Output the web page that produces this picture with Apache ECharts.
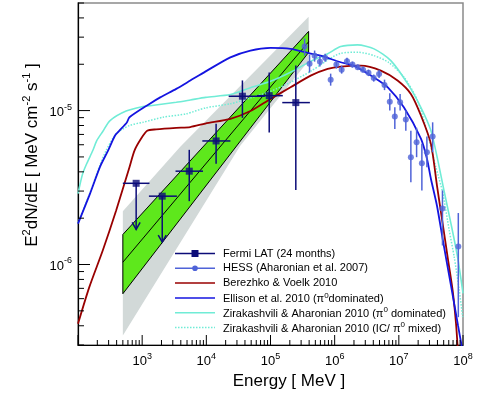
<!DOCTYPE html>
<html><head><meta charset="utf-8">
<script src="https://cdn.jsdelivr.net/npm/echarts@6/dist/echarts.min.js"></script>
<style>html,body{margin:0;padding:0;background:#fff;}#chart{width:498px;height:399px;}</style>
</head><body><div id="chart"></div>
<script>
// ---------------- data ----------------
const xLabelValues = [1e3, 1e4, 1e5, 1e6, 1e7, 1e8];
const yLabelValues = [1e-6, 1e-5];

const fermiE   = [806, 2054, 5420, 14200, 36500, 95500, 248000];
const fermiElo = [500, 1274, 3312, 8660, 22300, 61100, 152500];
const fermiEhi = [1300, 3480, 8870, 23700, 81300, 155500, 411000];
const fermiY   = [3.37e-6, 2.78e-6, 4.04e-6, 6.35e-6, 1.24e-5, 1.25e-5, 1.127e-5];
const fermiYlo = [1.69e-6, 1.40e-6, 2.58e-6, 4.51e-6, 8.97e-6, 7.2e-6, 3.05e-6];
const fermiYhi = [3.37e-6, 2.78e-6, 5.56e-6, 8.2e-6, 1.57e-5, 1.77e-5, 1.96e-5];
const fermiUL  = [1, 1, 0, 0, 0, 0, 0];

const hessE  = [3.40e5, 4.06e5, 4.87e5, 5.89e5, 7.11e5, 8.66e5, 1.064e6, 1.285e6, 1.556e6, 1.892e6, 2.286e6, 2.767e6, 3.365e6, 4.064e6, 4.920e6, 5.984e6, 7.228e6, 8.66e6, 1.047e7, 1.285e7, 1.540e7, 1.892e7, 2.286e7, 2.738e7, 3.365e7, 4.786e7, 8.45e7];
const hessY  = [2.606e-5, 2.018e-5, 2.275e-5, 2.080e-5, 2.208e-5, 1.589e-5, 1.991e-5, 1.845e-5, 2.094e-5, 1.991e-5, 1.914e-5, 1.845e-5, 1.758e-5, 1.629e-5, 1.730e-5, 1.469e-5, 1.143e-5, 9.14e-6, 1.132e-5, 8.75e-6, 4.98e-6, 6.22e-6, 4.55e-6, 5.36e-6, 6.78e-6, 2.31e-6, 1.31e-6];
const hessLo = [2.275e-5, 1.766e-5, 2.080e-5, 1.932e-5, 2.080e-5, 1.452e-5, 1.875e-5, 1.738e-5, 1.991e-5, 1.901e-5, 1.845e-5, 1.766e-5, 1.675e-5, 1.542e-5, 1.626e-5, 1.358e-5, 1.0e-5, 7.60e-6, 1.0e-5, 7.41e-6, 3.42e-6, 4.98e-6, 3.03e-6, 4.29e-6, 5.36e-6, 1.33e-6, 4.55e-7];
const hessHi = [2.938e-5, 2.312e-5, 2.455e-5, 2.275e-5, 2.344e-5, 1.738e-5, 2.113e-5, 1.959e-5, 2.208e-5, 2.080e-5, 1.991e-5, 1.932e-5, 1.845e-5, 1.714e-5, 1.845e-5, 1.589e-5, 1.294e-5, 1.050e-5, 1.282e-5, 1.0e-5, 7.41e-6, 7.73e-6, 6.08e-6, 6.78e-6, 8.39e-6, 3.03e-6, 2.16e-6];

const berezhkoE = [100, 150, 243, 393, 634, 759, 964, 1197, 1656, 3396, 5623, 9638, 23700, 48700, 1e5, 2.05e5, 4.22e5, 7.78e5, 1.24e6, 2.55e6, 5.24e6, 9.55e6, 1.54e7, 2.21e7, 3.16e7, 3.93e7, 4.82e7, 5.77e7, 6.90e7, 7.78e7, 8.26e7];
const berezhkoY = [4.12e-7, 7.13e-7, 1.233e-6, 2.244e-6, 4.29e-6, 5.50e-6, 6.58e-6, 7.4e-6, 7.55e-6, 7.73e-6, 7.82e-6, 8.24e-6, 8.83e-6, 9.93e-6, 1.191e-5, 1.416e-5, 1.687e-5, 1.866e-5, 1.932e-5, 1.959e-5, 1.820e-5, 1.567e-5, 1.282e-5, 9.29e-6, 6.08e-6, 3.26e-6, 1.845e-6, 1.114e-6, 6.78e-7, 4.14e-7, 2.90e-7];

const ellisonE = [100, 154, 221, 294, 378, 442, 577, 634, 1300, 1910, 3396, 5623, 9638, 23700, 48700, 1e5, 2.05e5, 4.22e5, 6.04e5, 1.24e6, 1.98e6, 4.06e6, 6.73e6, 1.197e7, 2.21e7, 2.74e7, 3.16e7, 3.93e7, 4.87e7, 6.49e7, 8.36e7, 9.64e7];
const ellisonY = [1.845e-6, 2.89e-6, 4.33e-6, 5.50e-6, 6.89e-6, 7.41e-6, 8.36e-6, 9.05e-6, 1.105e-5, 1.219e-5, 1.384e-5, 1.567e-5, 1.791e-5, 2.218e-5, 2.455e-5, 2.553e-5, 2.518e-5, 2.344e-5, 2.275e-5, 2.061e-5, 1.959e-5, 1.644e-5, 1.416e-5, 1.050e-5, 6.58e-6, 4.88e-6, 3.61e-6, 2.41e-6, 1.43e-6, 7.31e-7, 4.02e-7, 2.89e-7];

const ziraPiE = [100, 118, 137, 170, 196, 243, 316, 562, 1026, 1334, 3396, 5623, 9750, 23700, 48700, 1e5, 2.05e5, 4.22e5, 7.69e5, 1.24e6, 2.27e6, 4.11e6, 7.5e6, 1.37e7, 2.21e7, 3.16e7, 4.06e7, 5.05e7, 6.49e7, 8.26e7, 1e8];
const ziraPiY = [2.89e-6, 3.88e-6, 4.53e-6, 5.50e-6, 6.38e-6, 7.31e-6, 8.61e-6, 9.93e-6, 1.062e-5, 1.076e-5, 1.132e-5, 1.172e-5, 1.219e-5, 1.271e-5, 1.409e-5, 1.549e-5, 1.774e-5, 2.089e-5, 2.333e-5, 2.606e-5, 2.673e-5, 2.518e-5, 2.113e-5, 1.496e-5, 1.045e-5, 7.41e-6, 4.73e-6, 3.03e-6, 1.845e-6, 1.109e-6, 6.5e-7];

const ziraMixE = [100, 154, 221, 274, 393, 634, 1026, 2104, 4870, 9750, 23700, 48700, 1e5, 2.05e5, 4.22e5, 1.24e6, 2.37e6, 4.11e6, 6.98e6, 1.21e7, 1.96e7, 2.81e7, 3.78e7, 4.82e7, 6.11e7, 7.31e7, 8.75e7, 9.89e7];
const ziraMixY = [1.87e-6, 2.93e-6, 4.45e-6, 5.50e-6, 7.06e-6, 8.0e-6, 8.39e-6, 9.05e-6, 9.53e-6, 1.042e-5, 1.107e-5, 1.208e-5, 1.334e-5, 1.528e-5, 1.799e-5, 2.355e-5, 2.393e-5, 2.275e-5, 2.051e-5, 1.644e-5, 1.161e-5, 7.06e-6, 4.29e-6, 2.94e-6, 1.663e-6, 1.114e-6, 6.78e-7, 4.55e-7];

// Fermi statistical butterfly (green) and systematic band (grey)
const statE  = [500, 393000];
const statHi = [1.567e-6, 3.27e-5];
const statMid= [1.035e-6, 2.80e-5];
const statLo = [6.46e-7, 2.39e-5];
const sysUpE = [500, 3925, 393000];
const sysUp  = [2.22e-6, 5.83e-6, 4.07e-5];
const sysLoE = [500, 33960, 393000];
const sysLo  = [3.46e-7, 5.93e-6, 2.11e-5];

// ---------------- chart ----------------
const FONT = 'Liberation Sans, Arial, Helvetica, sans-serif';
const C_FERMI = '#0c0c78', C_HESS = '#4f63d8', C_BV = '#990000', C_ELL = '#1414e0', C_ZA = '#70ecd6';
const zip = (a, b) => a.map((v, i) => [v, b[i]]);
const X_MIN = 100, X_MAX = 1e8, Y_MIN = 3e-7, Y_MAX = 5e-5;

function isLabel(v, list) { return list.some(t => Math.abs(Math.log10(v) - Math.log10(t)) < 1e-6); }
const labelRich = {
  b: {fontSize: 13, fontFamily: FONT, color: '#000', verticalAlign: 'bottom'},
  s: {fontSize: 9, fontFamily: FONT, color: '#000', verticalAlign: 'bottom', padding: [0, 0, 7, 0]}
};

const xMajor = [1e2, 1e3, 1e4, 1e5, 1e6, 1e7, 1e8];
const yMajor = [1e-6, 1e-5];
function minorTicks(lo, hi) {
  const out = [];
  for (let d = Math.floor(Math.log10(lo)); d <= Math.ceil(Math.log10(hi)); d++) {
    for (let k = 2; k <= 9; k++) { const v = k * Math.pow(10, d); if (v >= lo * 0.999 && v <= hi * 1.001) out.push(v); }
  }
  return out;
}
const xMinor = minorTicks(X_MIN, X_MAX), yMinor = minorTicks(Y_MIN, Y_MAX);

function ticksItem(params, api) {
  const ch = [];
  const ln = (a, b) => ch.push({type: 'line', shape: {x1: a[0], y1: a[1], x2: b[0], y2: b[1]}, style: {stroke: '#000', lineWidth: 1}});
  xMajor.forEach(v => { const p = api.coord([v, Y_MIN]); ln(p, [p[0], p[1] - 10]); });
  xMinor.forEach(v => { const p = api.coord([v, Y_MIN]); ln(p, [p[0], p[1] - 5]); });
  yMajor.forEach(v => { const p = api.coord([X_MIN, v]); ln(p, [p[0] + 12, p[1]]); });
  yMinor.forEach(v => { const p = api.coord([X_MIN, v]); ln(p, [p[0] + 6, p[1]]); });
  return {type: 'group', children: ch};
}

function sysBandItem(params, api) {
  const up = sysUpE.map((e, i) => api.coord([e, sysUp[i]]));
  const lo = sysLoE.map((e, i) => api.coord([e, sysLo[i]])).reverse();
  return {type: 'polygon', shape: {points: up.concat(lo)}, style: {fill: '#d2d9d8', stroke: null}};
}
function statBandItem(params, api) {
  const up = statE.map((e, i) => api.coord([e, statHi[i]]));
  const lo = statE.map((e, i) => api.coord([e, statLo[i]])).reverse();
  const mid = statE.map((e, i) => api.coord([e, statMid[i]]));
  return {type: 'group', children: [
    {type: 'polygon', shape: {points: up.concat(lo)}, style: {fill: '#5ee81c', stroke: '#000', lineWidth: 1}},
    {type: 'polyline', shape: {points: mid}, style: {stroke: '#000', lineWidth: 1, fill: null}}
  ]};
}
function fermiErrItem(params, api) {
  const e = api.value(0), y = api.value(1), elo = api.value(2), ehi = api.value(3), ylo = api.value(4), yhi = api.value(5), ul = api.value(6);
  const pl = api.coord([elo, y]), ph = api.coord([ehi, y]);
  const pb = api.coord([e, ylo]), pt = api.coord([e, yhi]);
  const st = {stroke: C_FERMI, lineWidth: 1.5, fill: null};
  const ch = [
    {type: 'line', shape: {x1: pl[0], y1: pl[1], x2: ph[0], y2: ph[1]}, style: st},
    {type: 'line', shape: {x1: pt[0], y1: pt[1], x2: pb[0], y2: pb[1]}, style: st}
  ];
  if (ul) ch.push({type: 'polyline', shape: {points: [[pb[0] - 4, pb[1] - 7], [pb[0], pb[1]], [pb[0] + 4, pb[1] - 7]]}, style: st});
  return {type: 'group', children: ch};
}
function hessErrItem(params, api) {
  const e = api.value(0), lo = api.value(2), hi = api.value(3);
  const a = api.coord([e, lo]), b = api.coord([e, hi]);
  return {type: 'line', shape: {x1: a[0], y1: a[1], x2: b[0], y2: b[1]}, style: {stroke: C_HESS, lineWidth: 1.5}};
}

function curve(name, E, Y, color, width, type, z) {
  return {name, type: 'line', data: zip(E, Y), symbol: 'none', smooth: 0.25, z: z || 4,
    lineStyle: {color, width, type: type || 'solid'}, silent: true};
}

const legendRows = [
  {t: 'Fermi LAT (24 months)', c: C_FERMI, m: 'rect', w: 1.5},
  {t: 'HESS (Aharonian et al. 2007)', c: C_HESS, m: 'circle', w: 1.5},
  {t: 'Berezhko & Voelk 2010', c: C_BV, w: 1.5},
  {t: 'Ellison et al. 2010 (π^0dominated)', c: C_ELL, w: 1.5},
  {t: 'Zirakashvili & Aharonian 2010 (π^0 dominated)', c: C_ZA, w: 1.5},
  {t: 'Zirakashvili & Aharonian 2010 (IC/ π^0 mixed)', c: C_ZA, w: 1.5, dash: [1.5, 1.5]}
];
function richName(t) {
  const parts = t.split('^0');
  return parts.map(p => '{n|' + p + '}').join('{s|0}');
}
const legendGraphic = [];
legendRows.forEach((r, i) => {
  const y = 253.5 + i * 14.8;
  legendGraphic.push({type: 'line', shape: {x1: 175, y1: y, x2: 215, y2: y}, style: {stroke: r.c, lineWidth: r.w, lineDash: r.dash || null}});
  if (r.m === 'rect') legendGraphic.push({type: 'rect', shape: {x: 195 - 3.5, y: y - 3.5, width: 7, height: 7}, style: {fill: r.c}});
  if (r.m === 'circle') legendGraphic.push({type: 'circle', shape: {cx: 195, cy: y, r: 2.8}, style: {fill: r.c}});
  legendGraphic.push({type: 'text', x: 223, y: y, style: {text: richName(r.t), verticalAlign: 'middle', align: 'left',
    rich: {n: {fontSize: 11, fontFamily: FONT, fill: '#000', verticalAlign: 'bottom'},
           s: {fontSize: 8, fontFamily: FONT, fill: '#000', verticalAlign: 'bottom', padding: [0, 0, 5, 0]}}}});
});

const titleRich = {
  b: {fontSize: 17, fontFamily: FONT, fill: '#000', verticalAlign: 'bottom'},
  s: {fontSize: 11, fontFamily: FONT, fill: '#000', verticalAlign: 'bottom', padding: [0, 0, 8, 0]}
};

const chart = echarts.init(document.getElementById('chart'), null, {renderer: 'canvas'});
chart.setOption({
  animation: false,
  backgroundColor: '#fff',
  grid: {left: 78, right: 35, top: 3, bottom: 54, show: true, borderColor: '#8a8a8a', borderWidth: 1.5, backgroundColor: 'rgba(0,0,0,0)'},
  xAxis: {type: 'log', logBase: 10, min: X_MIN, max: X_MAX,
    axisLine: {show: true, lineStyle: {color: '#000', width: 1.2}}, axisTick: {show: false}, splitLine: {show: false},
    axisLabel: {margin: 7, showMinLabel: false, formatter: v => isLabel(v, xLabelValues) ? '{b|10}{s|' + Math.round(Math.log10(v)) + '}' : '', rich: labelRich}},
  yAxis: {type: 'log', logBase: 10, min: Y_MIN, max: Y_MAX,
    axisLine: {show: true, lineStyle: {color: '#000', width: 1.2}}, axisTick: {show: false}, splitLine: {show: false},
    axisLabel: {margin: 6, showMinLabel: false, showMaxLabel: false, formatter: v => isLabel(v, yLabelValues) ? '{b|10}{s|' + Math.round(Math.log10(v)) + '}' : '', rich: labelRich}},
  graphic: [
    {type: 'text', x: 31, y: 155, rotation: Math.PI / 2, style: {text: '{b|E}{s|2}{b|dN/dE [ MeV cm}{s|-2}{b| s}{s|-1}{b| ]}', align: 'center', verticalAlign: 'middle', rich: titleRich}},
    {type: 'text', x: 289, y: 381, style: {text: '{b|Energy [ MeV ]}', align: 'center', verticalAlign: 'middle', rich: titleRich}},
    {type: 'group', children: legendGraphic}
  ],
  series: [
    {type: 'custom', renderItem: sysBandItem, data: [[statE[0], statMid[0]]], z: 1, silent: true},
    {type: 'custom', renderItem: statBandItem, data: [[statE[0], statMid[0]]], z: 2, silent: true},
    curve('Zirakashvili & Aharonian 2010 (IC/pi0)', ziraMixE, ziraMixY, C_ZA, 1.5, [1.5, 1.5], 3),
    curve('Berezhko & Voelk 2010', berezhkoE, berezhkoY, C_BV, 1.8),
    curve('Zirakashvili & Aharonian 2010 (pi0)', ziraPiE, ziraPiY, C_ZA, 1.6),
    curve('Ellison et al. 2010', ellisonE, ellisonY, C_ELL, 1.8),
    {type: 'custom', renderItem: hessErrItem, z: 5, silent: true,
      data: hessE.map((e, i) => [e, hessY[i], hessLo[i], hessHi[i]])},
    {name: 'HESS (Aharonian et al. 2007)', type: 'scatter', z: 6, symbol: 'circle', symbolSize: 6, itemStyle: {color: C_HESS}, data: zip(hessE, hessY), silent: true},
    {type: 'custom', renderItem: fermiErrItem, z: 7, silent: true,
      data: fermiE.map((e, i) => [e, fermiY[i], fermiElo[i], fermiEhi[i], fermiYlo[i], fermiYhi[i], fermiUL[i]])},
    {name: 'Fermi LAT (24 months)', type: 'scatter', z: 8, symbol: 'rect', symbolSize: 7, itemStyle: {color: C_FERMI}, data: zip(fermiE, fermiY), silent: true},
    {type: 'custom', renderItem: ticksItem, data: [[X_MIN, Y_MIN]], z: 9, silent: true, clip: false}
  ]
});
</script></body></html>
